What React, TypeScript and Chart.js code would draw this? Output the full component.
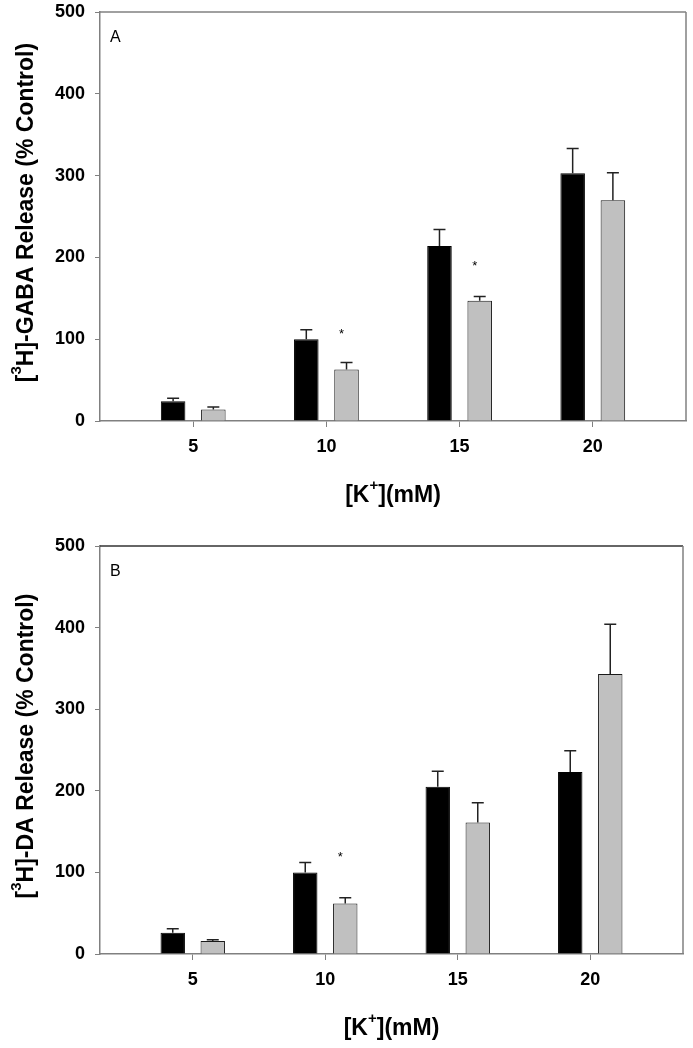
import { useEffect, useRef } from 'react';
import { Chart, registerables } from 'chart.js';

Chart.register(...registerables);

const FONT = '"Liberation Sans", Arial, Helvetica, sans-serif';

// [K+] in mM
const kConc = [5, 10, 15, 20];
const yTicks = [0, 100, 200, 300, 400, 500];

// panel A - [3H]-GABA
const gabaBlack = [24, 100, 214, 303];
const gabaBlackErr = [3.7, 11.5, 20, 30];
const gabaGrey = [14, 63, 147, 270];
const gabaGreyErr = [3.2, 8.5, 5.3, 33.5];
const gabaStars = [null, 108, 191, null];

// panel B - [3H]-DA
const daBlack = [26, 100, 205, 223];
const daBlackErr = [5, 12, 19, 26];
const daGrey = [16, 62, 161, 343];
const daGreyErr = [1.6, 7, 24.5, 61];
const daStars = [null, 121, null, null];

type Seg = { t: string; sup?: boolean };

function drawRich(ctx: CanvasRenderingContext2D, segs: Seg[], cx: number, cy: number, size: number) {
  const mainFont = `bold ${size}px ${FONT}`;
  const supFont = `bold ${Math.round(size * 0.65)}px ${FONT}`;
  const widths = segs.map((s) => {
    ctx.font = s.sup ? supFont : mainFont;
    return ctx.measureText(s.t).width;
  });
  const total = widths.reduce((a, b) => a + b, 0);
  let x = cx - total / 2;
  ctx.textAlign = 'left';
  ctx.textBaseline = 'middle';
  ctx.fillStyle = '#000';
  segs.forEach((s, i) => {
    ctx.font = s.sup ? supFont : mainFont;
    ctx.fillText(s.t, x, s.sup ? cy - size * 0.42 : cy);
    x += widths[i];
  });
}

type PanelProps = {
  letter: string;
  yTitle: Seg[];
  black: number[];
  blackErr: number[];
  grey: number[];
  greyErr: number[];
  stars: (number | null)[];
  top: number;
  height: number;
  plotTop: number;
  plotBottom: number;
  plotRight: number;
  topLine: string;
};

function Panel(p: PanelProps) {
  const ref = useRef<HTMLCanvasElement | null>(null);

  useEffect(() => {
    const ctx = ref.current?.getContext('2d');
    if (!ctx) return;

    const decor = {
      id: 'decor',
      afterDatasetsDraw(chart: any) {
        const c = chart.ctx as CanvasRenderingContext2D;
        const a = chart.chartArea;
        const y = chart.scales.y;
        c.save();
        // frame top / right
        c.lineWidth = 1.5;
        c.strokeStyle = p.topLine;
        c.beginPath();
        c.moveTo(a.left, a.top);
        c.lineTo(a.right, a.top);
        c.stroke();
        c.strokeStyle = '#808080';
        c.beginPath();
        c.moveTo(a.right, a.top);
        c.lineTo(a.right, a.bottom);
        c.stroke();

        // error bars (upper only)
        c.strokeStyle = '#222';
        c.lineWidth = 1.5;
        [
          [p.black, p.blackErr],
          [p.grey, p.greyErr],
        ].forEach(([vals, errs], di) => {
          const meta = chart.getDatasetMeta(di);
          meta.data.forEach((bar: any, i: number) => {
            const y0 = y.getPixelForValue(vals[i]);
            const y1 = y.getPixelForValue(vals[i] + errs[i]);
            c.beginPath();
            c.moveTo(bar.x, y0);
            c.lineTo(bar.x, y1);
            c.moveTo(bar.x - 6, y1);
            c.lineTo(bar.x + 6, y1);
            c.stroke();
          });
        });

        // significance marks
        const greyMeta = chart.getDatasetMeta(1);
        c.fillStyle = '#000';
        c.font = `13px ${FONT}`;
        c.textAlign = 'center';
        c.textBaseline = 'middle';
        p.stars.forEach((s, i) => {
          if (s == null) return;
          c.fillText('*', greyMeta.data[i].x - 5, y.getPixelForValue(s) + 2);
        });

        // panel letter
        c.font = `16px ${FONT}`;
        c.textAlign = 'left';
        c.fillText(p.letter, a.left + 10, a.top + 26);

        // axis titles
        drawRich(c, [{ t: '[K' }, { t: '+', sup: true }, { t: '](mM)' }], (a.left + a.right) / 2, a.bottom + 75, 23);
        c.translate(27, (a.top + a.bottom) / 2 - 4);
        c.rotate(-Math.PI / 2);
        drawRich(c, p.yTitle, 0, 0, 23);
        c.restore();
      },
    };

    const chart = new Chart(ctx, {
      type: 'bar',
      data: {
        datasets: [
          {
            label: 'black',
            data: kConc.map((k, i) => ({ x: k, y: p.black[i] })),
            backgroundColor: '#000',
            borderColor: '#000',
            borderWidth: 1,
          },
          {
            label: 'grey',
            data: kConc.map((k, i) => ({ x: k, y: p.grey[i] })),
            backgroundColor: '#c0c0c0',
            borderColor: '#1a1a1a',
            borderWidth: 1,
          },
        ],
      },
      options: {
        animation: false,
        responsive: false,
        events: [],
        categoryPercentage: 0.604,
        barPercentage: 0.61,
        layout: { padding: { top: p.plotTop, right: 693 - p.plotRight, bottom: 0, left: 0 } },
        plugins: { legend: { display: false }, tooltip: { enabled: false } },
        scales: {
          x: {
            type: 'linear',
            min: 1.5,
            max: 23.5,
            offset: false,
            afterBuildTicks: (s: any) => {
              s.ticks = kConc.map((v) => ({ value: v }));
            },
            afterFit: (s: any) => {
              s.height = p.height - p.plotBottom;
              s.paddingLeft = 0;
              s.paddingRight = 0;
            },
            grid: { offset: false, drawOnChartArea: false, color: '#808080', tickLength: 6 },
            border: { color: '#808080', width: 1.5 },
            ticks: {
              padding: 9,
              color: '#000',
              font: { family: FONT, size: 18, weight: 'bold' },
              callback: (v: any) => String(v),
            },
          },
          y: {
            min: 0,
            max: 500,
            afterBuildTicks: (s: any) => {
              s.ticks = yTicks.map((v) => ({ value: v }));
            },
            afterFit: (s: any) => {
              s.width = 100;
              s.paddingTop = 0;
              s.paddingBottom = 0;
            },
            grid: { drawOnChartArea: false, color: '#808080', tickLength: 5 },
            border: { color: '#808080', width: 1.5 },
            ticks: {
              padding: 10,
              color: '#000',
              font: { family: FONT, size: 18, weight: 'bold' },
            },
          },
        },
      } as any,
      plugins: [decor],
    });

    return () => {
      chart.destroy();
    };
  }, []);

  return (
    <canvas
      ref={ref}
      width={693}
      height={p.height}
      style={{ position: 'absolute', left: 0, top: p.top, width: 693, height: p.height }}
    />
  );
}

export default function App() {
  return (
    <div style={{ position: 'absolute', left: 0, top: 0, width: 693, height: 1048, background: '#fff' }}>
      <Panel
        letter="A"
        yTitle={[{ t: '[' }, { t: '3', sup: true }, { t: 'H]-GABA Release (% Control)' }]}
        black={gabaBlack}
        blackErr={gabaBlackErr}
        grey={gabaGrey}
        greyErr={gabaGreyErr}
        stars={gabaStars}
        top={0}
        height={534}
        plotTop={12}
        plotBottom={421}
        plotRight={686}
        topLine="#808080"
      />
      <Panel
        letter="B"
        yTitle={[{ t: '[' }, { t: '3', sup: true }, { t: 'H]-DA Release (% Control)' }]}
        black={daBlack}
        blackErr={daBlackErr}
        grey={daGrey}
        greyErr={daGreyErr}
        stars={daStars}
        top={534}
        height={514}
        plotTop={12}
        plotBottom={420}
        plotRight={683}
        topLine="#333"
      />
    </div>
  );
}
